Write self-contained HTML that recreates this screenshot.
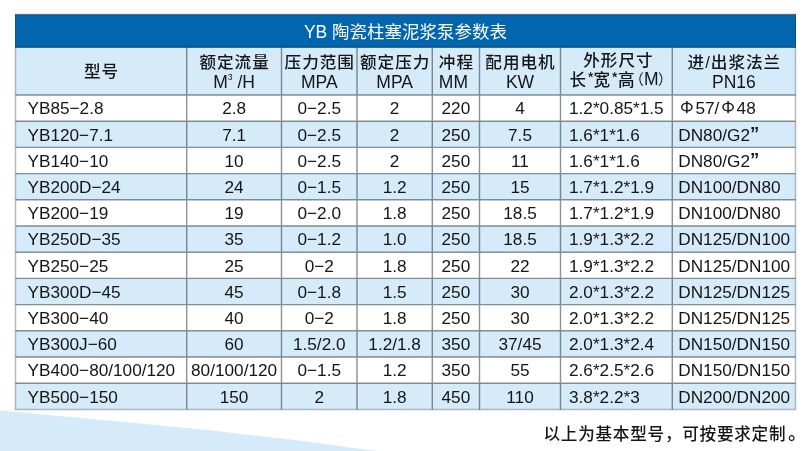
<!DOCTYPE html>
<html><head><meta charset="utf-8"><title>YB 陶瓷柱塞泥浆泵参数表</title>
<style>
html,body{margin:0;padding:0;background:#fff;}
body{width:810px;height:451px;position:relative;overflow:hidden;font-family:"Liberation Sans","Noto Sans CJK SC",sans-serif;color:#161415;}
svg.bg{position:absolute;left:0;top:0;}
.tx{position:absolute;left:0;top:0;width:810px;height:451px;will-change:transform;}
.t{position:absolute;white-space:nowrap;-webkit-font-smoothing:antialiased;}
.c{text-align:center;}
.title{color:#fff;font-size:17.5px;text-align:center;}
.hd{font-size:16.6px;letter-spacing:1px;text-indent:1px;font-weight:500;transform:scaleY(0.97);}
.hd2{font-size:17.5px;}
.hd2 sup{font-size:8.5px;vertical-align:0;position:relative;top:-7.8px;}
.cj{font-family:"Liberation Sans","Noto Sans CJK SC",sans-serif;}
.ast{font-family:"Noto Sans CJK SC",sans-serif;}
.la{font-family:"Liberation Sans",sans-serif;}
.m{font-weight:500;}
.d{font-size:17.2px;}
.phi{font-family:"IPAGothic","Liberation Sans",sans-serif;}
.dot{font-size:19px;margin-left:1.8px;}
.q{font-family:"Liberation Sans",sans-serif;font-weight:bold;font-size:18.5px;position:relative;top:-0.8px;}
.foot{font-size:16.6px;letter-spacing:0.75px;font-weight:500;font-family:"Liberation Sans","Noto Sans CJK SC",sans-serif;}
</style></head><body>
<svg class="bg" width="810" height="451" viewBox="0 0 810 451">
<path d="M0 410.6 L100 419.8 L150 424.6 L210 430.2 L250 435.0 L290 439.5 L320 443.3 L350 447.4 L377 451 L0 451 Z" fill="#d5ebfa"/>
<rect x="15.0" y="14.3" width="781.0" height="33.2" fill="#0266ae"/>
<rect x="15.5" y="47.5" width="780.0" height="47.5" fill="#d6ebfa"/>
<rect x="15.5" y="95.00" width="780.0" height="26.20" fill="#ffffff"/>
<rect x="15.5" y="121.20" width="780.0" height="26.20" fill="#d5ebfa"/>
<rect x="15.5" y="147.40" width="780.0" height="26.20" fill="#ffffff"/>
<rect x="15.5" y="173.60" width="780.0" height="26.20" fill="#d5ebfa"/>
<rect x="15.5" y="199.80" width="780.0" height="26.20" fill="#ffffff"/>
<rect x="15.5" y="226.00" width="780.0" height="26.20" fill="#d5ebfa"/>
<rect x="15.5" y="252.20" width="780.0" height="26.20" fill="#ffffff"/>
<rect x="15.5" y="278.40" width="780.0" height="26.20" fill="#d5ebfa"/>
<rect x="15.5" y="304.60" width="780.0" height="26.20" fill="#ffffff"/>
<rect x="15.5" y="330.80" width="780.0" height="26.20" fill="#d5ebfa"/>
<rect x="15.5" y="357.00" width="780.0" height="26.20" fill="#ffffff"/>
<rect x="15.5" y="383.20" width="780.0" height="26.20" fill="#d5ebfa"/>
<rect x="15.0" y="46.7" width="781.0" height="1" fill="#0b3e66"/>
<rect x="15.0" y="13.8" width="781.0" height="0.9" fill="#6a8299"/>
<rect x="15.0" y="14.7" width="781.0" height="1.1" fill="#1b5585"/>
<rect x="15.0" y="14.3" width="0.8" height="33.2" fill="#164a72"/>
<rect x="795.2" y="14.3" width="0.8" height="33.2" fill="#164a72"/>
<g stroke="#1a2530" opacity="0.5"><line x1="15.5" y1="121.20" x2="795.5" y2="121.20" stroke-width="1.4"/><line x1="15.5" y1="147.40" x2="795.5" y2="147.40" stroke-width="1.4"/><line x1="15.5" y1="173.60" x2="795.5" y2="173.60" stroke-width="1.4"/><line x1="15.5" y1="199.80" x2="795.5" y2="199.80" stroke-width="1.4"/><line x1="15.5" y1="226.00" x2="795.5" y2="226.00" stroke-width="1.4"/><line x1="15.5" y1="252.20" x2="795.5" y2="252.20" stroke-width="1.4"/><line x1="15.5" y1="278.40" x2="795.5" y2="278.40" stroke-width="1.4"/><line x1="15.5" y1="304.60" x2="795.5" y2="304.60" stroke-width="1.4"/><line x1="15.5" y1="330.80" x2="795.5" y2="330.80" stroke-width="1.4"/><line x1="15.5" y1="357.00" x2="795.5" y2="357.00" stroke-width="1.4"/><line x1="15.5" y1="383.20" x2="795.5" y2="383.20" stroke-width="1.4"/><line x1="15.5" y1="95.0" x2="795.5" y2="95.0" stroke-width="1.6"/><line x1="186.7" y1="47.5" x2="186.7" y2="409.40" stroke-width="1.4"/><line x1="281.5" y1="47.5" x2="281.5" y2="409.40" stroke-width="1.4"/><line x1="357.0" y1="47.5" x2="357.0" y2="409.40" stroke-width="1.4"/><line x1="432.3" y1="47.5" x2="432.3" y2="409.40" stroke-width="1.4"/><line x1="479.5" y1="47.5" x2="479.5" y2="409.40" stroke-width="1.4"/><line x1="560.5" y1="47.5" x2="560.5" y2="409.40" stroke-width="1.4"/><line x1="672.3" y1="47.5" x2="672.3" y2="409.40" stroke-width="1.4"/></g>
<g stroke="#3a4550" opacity="0.36"><line x1="14.8" y1="409.40" x2="796.2" y2="409.40" stroke-width="1.5"/><line x1="15.5" y1="47.5" x2="15.5" y2="410.10" stroke-width="1.5"/><line x1="795.5" y1="47.5" x2="795.5" y2="410.10" stroke-width="1.5"/></g>
</svg>
<div class="tx">
<div class="t title" style="left:15.5px;top:15.5px;width:780.0px;height:33.2px;line-height:33.2px">YB 陶瓷柱塞泥浆泵参数表</div>
<div class="t hd c" style="left:15.5px;top:47.5px;width:171.2px;height:47.5px;line-height:47.5px">型号</div>
<div class="t hd c" style="left:186.7px;top:51.8px;width:94.80000000000001px;height:21px;line-height:21px">额定流量</div>
<div class="t hd2 c" style="left:186.7px;top:71.7px;width:94.80000000000001px;height:21px;line-height:21px">M<sup>3</sup> /H</div>
<div class="t hd c" style="left:281.5px;top:51.8px;width:75.5px;height:21px;line-height:21px">压力范围</div>
<div class="t hd2 c" style="left:281.5px;top:71.7px;width:75.5px;height:21px;line-height:21px">MPA</div>
<div class="t hd c" style="left:357.0px;top:51.8px;width:75.30000000000001px;height:21px;line-height:21px">额定压力</div>
<div class="t hd2 c" style="left:357.0px;top:71.7px;width:75.30000000000001px;height:21px;line-height:21px">MPA</div>
<div class="t hd c" style="left:432.3px;top:51.8px;width:47.19999999999999px;height:21px;line-height:21px">冲程</div>
<div class="t hd2 c" style="left:429.8px;top:71.7px;width:47.19999999999999px;height:21px;line-height:21px">MM</div>
<div class="t hd c" style="left:479.5px;top:51.8px;width:81.0px;height:21px;line-height:21px">配用电机</div>
<div class="t hd2 c" style="left:479.5px;top:71.7px;width:81.0px;height:21px;line-height:21px">KW</div>
<div class="t hd c" style="left:562.0px;top:49.599999999999994px;width:111.79999999999995px;height:21px;line-height:21px">外形尺寸</div>
<div class="t cj m" style="left:569.4px;top:69.6px;font-size:16.6px;line-height:21px">长</div>
<div class="t ast" style="left:586.9px;top:68.4px;font-size:16.0px;line-height:21px">*</div>
<div class="t cj m" style="left:593.4px;top:69.6px;font-size:16.6px;line-height:21px">宽</div>
<div class="t ast" style="left:610.9px;top:68.4px;font-size:16.0px;line-height:21px">*</div>
<div class="t cj m" style="left:618.0px;top:69.6px;font-size:16.6px;line-height:21px">高</div>
<div class="t cj" style="left:629.3px;top:70.2px;font-size:14.5px;line-height:21px">（</div>
<div class="t la" style="left:644.1px;top:69.1px;font-size:17.5px;line-height:21px">M</div>
<div class="t cj" style="left:658.0px;top:70.2px;font-size:14.5px;line-height:21px">）</div>
<div class="t hd c" style="left:672.3px;top:51.8px;width:123.20000000000005px;height:21px;line-height:21px">进/出浆法兰</div>
<div class="t hd2 c" style="left:672.3px;top:71.7px;width:123.20000000000005px;height:21px;line-height:21px">PN16</div>
<div class="t d" style="left:27.5px;top:95.40px;height:26.2px;line-height:26.2px">YB85−2.8</div>
<div class="t d c" style="left:186.7px;top:95.40px;width:94.8px;height:26.2px;line-height:26.2px">2.8</div>
<div class="t d c" style="left:281.5px;top:95.40px;width:75.5px;height:26.2px;line-height:26.2px">0−2.5</div>
<div class="t d c" style="left:357.0px;top:95.40px;width:75.3px;height:26.2px;line-height:26.2px">2</div>
<div class="t d c" style="left:432.3px;top:95.40px;width:47.2px;height:26.2px;line-height:26.2px">220</div>
<div class="t d c" style="left:479.5px;top:95.40px;width:81.0px;height:26.2px;line-height:26.2px">4</div>
<div class="t d" style="left:569.0px;top:95.40px;height:26.2px;line-height:26.2px">1.2*0.85*1.5</div>
<div class="t d" style="left:678.3px;top:95.40px;height:26.2px;line-height:26.2px"><span class="phi">Φ</span>57/<span class="phi">Φ</span>48</div>
<div class="t d" style="left:27.5px;top:121.60px;height:26.2px;line-height:26.2px">YB120−7.1</div>
<div class="t d c" style="left:186.7px;top:121.60px;width:94.8px;height:26.2px;line-height:26.2px">7.1</div>
<div class="t d c" style="left:281.5px;top:121.60px;width:75.5px;height:26.2px;line-height:26.2px">0−2.5</div>
<div class="t d c" style="left:357.0px;top:121.60px;width:75.3px;height:26.2px;line-height:26.2px">2</div>
<div class="t d c" style="left:432.3px;top:121.60px;width:47.2px;height:26.2px;line-height:26.2px">250</div>
<div class="t d c" style="left:479.5px;top:121.60px;width:81.0px;height:26.2px;line-height:26.2px">7.5</div>
<div class="t d" style="left:569.0px;top:121.60px;height:26.2px;line-height:26.2px">1.6*1*1.6</div>
<div class="t d" style="left:678.3px;top:121.60px;height:26.2px;line-height:26.2px">DN80/G2<span class="q">”</span></div>
<div class="t d" style="left:27.5px;top:147.80px;height:26.2px;line-height:26.2px">YB140−10</div>
<div class="t d c" style="left:186.7px;top:147.80px;width:94.8px;height:26.2px;line-height:26.2px">10</div>
<div class="t d c" style="left:281.5px;top:147.80px;width:75.5px;height:26.2px;line-height:26.2px">0−2.5</div>
<div class="t d c" style="left:357.0px;top:147.80px;width:75.3px;height:26.2px;line-height:26.2px">2</div>
<div class="t d c" style="left:432.3px;top:147.80px;width:47.2px;height:26.2px;line-height:26.2px">250</div>
<div class="t d c" style="left:479.5px;top:147.80px;width:81.0px;height:26.2px;line-height:26.2px">11</div>
<div class="t d" style="left:569.0px;top:147.80px;height:26.2px;line-height:26.2px">1.6*1*1.6</div>
<div class="t d" style="left:678.3px;top:147.80px;height:26.2px;line-height:26.2px">DN80/G2<span class="q">”</span></div>
<div class="t d" style="left:27.5px;top:174.00px;height:26.2px;line-height:26.2px">YB200D−24</div>
<div class="t d c" style="left:186.7px;top:174.00px;width:94.8px;height:26.2px;line-height:26.2px">24</div>
<div class="t d c" style="left:281.5px;top:174.00px;width:75.5px;height:26.2px;line-height:26.2px">0−1.5</div>
<div class="t d c" style="left:357.0px;top:174.00px;width:75.3px;height:26.2px;line-height:26.2px">1.2</div>
<div class="t d c" style="left:432.3px;top:174.00px;width:47.2px;height:26.2px;line-height:26.2px">250</div>
<div class="t d c" style="left:479.5px;top:174.00px;width:81.0px;height:26.2px;line-height:26.2px">15</div>
<div class="t d" style="left:569.0px;top:174.00px;height:26.2px;line-height:26.2px">1.7*1.2*1.9</div>
<div class="t d" style="left:678.3px;top:174.00px;height:26.2px;line-height:26.2px">DN100/DN80</div>
<div class="t d" style="left:27.5px;top:200.20px;height:26.2px;line-height:26.2px">YB200−19</div>
<div class="t d c" style="left:186.7px;top:200.20px;width:94.8px;height:26.2px;line-height:26.2px">19</div>
<div class="t d c" style="left:281.5px;top:200.20px;width:75.5px;height:26.2px;line-height:26.2px">0−2.0</div>
<div class="t d c" style="left:357.0px;top:200.20px;width:75.3px;height:26.2px;line-height:26.2px">1.8</div>
<div class="t d c" style="left:432.3px;top:200.20px;width:47.2px;height:26.2px;line-height:26.2px">250</div>
<div class="t d c" style="left:479.5px;top:200.20px;width:81.0px;height:26.2px;line-height:26.2px">18.5</div>
<div class="t d" style="left:569.0px;top:200.20px;height:26.2px;line-height:26.2px">1.7*1.2*1.9</div>
<div class="t d" style="left:678.3px;top:200.20px;height:26.2px;line-height:26.2px">DN100/DN80</div>
<div class="t d" style="left:27.5px;top:226.40px;height:26.2px;line-height:26.2px">YB250D−35</div>
<div class="t d c" style="left:186.7px;top:226.40px;width:94.8px;height:26.2px;line-height:26.2px">35</div>
<div class="t d c" style="left:281.5px;top:226.40px;width:75.5px;height:26.2px;line-height:26.2px">0−1.2</div>
<div class="t d c" style="left:357.0px;top:226.40px;width:75.3px;height:26.2px;line-height:26.2px">1.0</div>
<div class="t d c" style="left:432.3px;top:226.40px;width:47.2px;height:26.2px;line-height:26.2px">250</div>
<div class="t d c" style="left:479.5px;top:226.40px;width:81.0px;height:26.2px;line-height:26.2px">18.5</div>
<div class="t d" style="left:569.0px;top:226.40px;height:26.2px;line-height:26.2px">1.9*1.3*2.2</div>
<div class="t d" style="left:678.3px;top:226.40px;height:26.2px;line-height:26.2px">DN125/DN100</div>
<div class="t d" style="left:27.5px;top:252.60px;height:26.2px;line-height:26.2px">YB250−25</div>
<div class="t d c" style="left:186.7px;top:252.60px;width:94.8px;height:26.2px;line-height:26.2px">25</div>
<div class="t d c" style="left:281.5px;top:252.60px;width:75.5px;height:26.2px;line-height:26.2px">0−2</div>
<div class="t d c" style="left:357.0px;top:252.60px;width:75.3px;height:26.2px;line-height:26.2px">1.8</div>
<div class="t d c" style="left:432.3px;top:252.60px;width:47.2px;height:26.2px;line-height:26.2px">250</div>
<div class="t d c" style="left:479.5px;top:252.60px;width:81.0px;height:26.2px;line-height:26.2px">22</div>
<div class="t d" style="left:569.0px;top:252.60px;height:26.2px;line-height:26.2px">1.9*1.3*2.2</div>
<div class="t d" style="left:678.3px;top:252.60px;height:26.2px;line-height:26.2px">DN125/DN100</div>
<div class="t d" style="left:27.5px;top:278.80px;height:26.2px;line-height:26.2px">YB300D−45</div>
<div class="t d c" style="left:186.7px;top:278.80px;width:94.8px;height:26.2px;line-height:26.2px">45</div>
<div class="t d c" style="left:281.5px;top:278.80px;width:75.5px;height:26.2px;line-height:26.2px">0−1.8</div>
<div class="t d c" style="left:357.0px;top:278.80px;width:75.3px;height:26.2px;line-height:26.2px">1.5</div>
<div class="t d c" style="left:432.3px;top:278.80px;width:47.2px;height:26.2px;line-height:26.2px">250</div>
<div class="t d c" style="left:479.5px;top:278.80px;width:81.0px;height:26.2px;line-height:26.2px">30</div>
<div class="t d" style="left:569.0px;top:278.80px;height:26.2px;line-height:26.2px">2.0*1.3*2.2</div>
<div class="t d" style="left:678.3px;top:278.80px;height:26.2px;line-height:26.2px">DN125/DN125</div>
<div class="t d" style="left:27.5px;top:305.00px;height:26.2px;line-height:26.2px">YB300−40</div>
<div class="t d c" style="left:186.7px;top:305.00px;width:94.8px;height:26.2px;line-height:26.2px">40</div>
<div class="t d c" style="left:281.5px;top:305.00px;width:75.5px;height:26.2px;line-height:26.2px">0−2</div>
<div class="t d c" style="left:357.0px;top:305.00px;width:75.3px;height:26.2px;line-height:26.2px">1.8</div>
<div class="t d c" style="left:432.3px;top:305.00px;width:47.2px;height:26.2px;line-height:26.2px">250</div>
<div class="t d c" style="left:479.5px;top:305.00px;width:81.0px;height:26.2px;line-height:26.2px">30</div>
<div class="t d" style="left:569.0px;top:305.00px;height:26.2px;line-height:26.2px">2.0*1.3*2.2</div>
<div class="t d" style="left:678.3px;top:305.00px;height:26.2px;line-height:26.2px">DN125/DN125</div>
<div class="t d" style="left:27.5px;top:331.20px;height:26.2px;line-height:26.2px">YB300J−60</div>
<div class="t d c" style="left:186.7px;top:331.20px;width:94.8px;height:26.2px;line-height:26.2px">60</div>
<div class="t d c" style="left:281.5px;top:331.20px;width:75.5px;height:26.2px;line-height:26.2px">1.5/2.0</div>
<div class="t d c" style="left:357.0px;top:331.20px;width:75.3px;height:26.2px;line-height:26.2px">1.2/1.8</div>
<div class="t d c" style="left:432.3px;top:331.20px;width:47.2px;height:26.2px;line-height:26.2px">350</div>
<div class="t d c" style="left:479.5px;top:331.20px;width:81.0px;height:26.2px;line-height:26.2px">37/45</div>
<div class="t d" style="left:569.0px;top:331.20px;height:26.2px;line-height:26.2px">2.0*1.3*2.4</div>
<div class="t d" style="left:678.3px;top:331.20px;height:26.2px;line-height:26.2px">DN150/DN150</div>
<div class="t d" style="left:27.5px;top:357.40px;height:26.2px;line-height:26.2px">YB400−80/100/120</div>
<div class="t d c" style="left:186.7px;top:357.40px;width:94.8px;height:26.2px;line-height:26.2px">80/100/120</div>
<div class="t d c" style="left:281.5px;top:357.40px;width:75.5px;height:26.2px;line-height:26.2px">0−1.5</div>
<div class="t d c" style="left:357.0px;top:357.40px;width:75.3px;height:26.2px;line-height:26.2px">1.2</div>
<div class="t d c" style="left:432.3px;top:357.40px;width:47.2px;height:26.2px;line-height:26.2px">350</div>
<div class="t d c" style="left:479.5px;top:357.40px;width:81.0px;height:26.2px;line-height:26.2px">55</div>
<div class="t d" style="left:569.0px;top:357.40px;height:26.2px;line-height:26.2px">2.6*2.5*2.6</div>
<div class="t d" style="left:678.3px;top:357.40px;height:26.2px;line-height:26.2px">DN150/DN150</div>
<div class="t d" style="left:27.5px;top:383.60px;height:26.2px;line-height:26.2px">YB500−150</div>
<div class="t d c" style="left:186.7px;top:383.60px;width:94.8px;height:26.2px;line-height:26.2px">150</div>
<div class="t d c" style="left:281.5px;top:383.60px;width:75.5px;height:26.2px;line-height:26.2px">2</div>
<div class="t d c" style="left:357.0px;top:383.60px;width:75.3px;height:26.2px;line-height:26.2px">1.8</div>
<div class="t d c" style="left:432.3px;top:383.60px;width:47.2px;height:26.2px;line-height:26.2px">450</div>
<div class="t d c" style="left:479.5px;top:383.60px;width:81.0px;height:26.2px;line-height:26.2px">110</div>
<div class="t d" style="left:569.0px;top:383.60px;height:26.2px;line-height:26.2px">3.8*2.2*3</div>
<div class="t d" style="left:678.3px;top:383.60px;height:26.2px;line-height:26.2px">DN200/DN200</div>
<div class="t foot" style="left:543.5px;top:423.2px;height:21px;line-height:21px">以上为基本型号，可按要求定制<span class="dot">。</span></div>
</div>
</body></html>
